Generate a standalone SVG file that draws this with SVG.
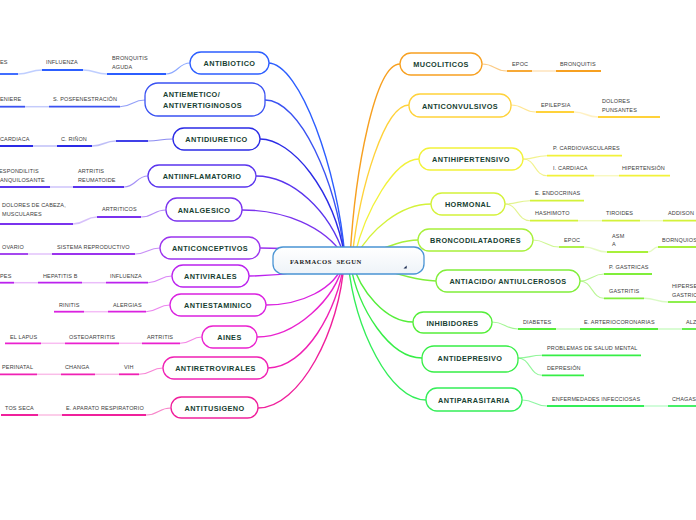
<svg xmlns="http://www.w3.org/2000/svg" width="696" height="520" viewBox="0 0 696 520">
<style>
.node rect{fill:#fff;stroke-width:1.3}
.nt{font-family:"Liberation Sans",Arial,sans-serif;font-weight:bold;font-size:7.3px;letter-spacing:0.4px;fill:#173f32;stroke:none;text-anchor:middle}
.st{font-family:"Liberation Sans",Arial,sans-serif;font-size:5.5px;letter-spacing:0.15px;fill:#3c3c3c;stroke:none}
.ul{stroke-width:1.8;fill:none}
.mc{fill:none;stroke-width:1.4}
.sc{fill:none;stroke-width:1.1;stroke-opacity:0.55}
.fc{fill:none;stroke-width:1.5;stroke-opacity:0.3}
</style>
<defs>
<linearGradient id="cg" x1="0" y1="0" x2="0" y2="1"><stop offset="0" stop-color="#ffffff"/><stop offset="1" stop-color="#eef3f8"/></linearGradient>
</defs>
<g id="connectors">
<path class="mc" stroke="#2c5eff" d="M268,63 C300,63 338,170 345,258"/>
<path class="mc" stroke="#3a52f2" d="M265,100 C300,100 336,180 345,258"/>
<path class="mc" stroke="#2b2be6" d="M260,139 C292,139 334,190 345,258"/>
<path class="mc" stroke="#5a35ee" d="M256,176 C292,176 330,210 345,258"/>
<path class="mc" stroke="#7a33ee" d="M242,210 C282,210 325,225 345,258"/>
<path class="mc" stroke="#9b33ee" d="M260,248 C290,248 320,250 345,258"/>
<path class="mc" stroke="#bb22ee" d="M249,276 C290,276 320,268 344,262"/>
<path class="mc" stroke="#da22e0" d="M266,305 C300,305 335,290 344,262"/>
<path class="mc" stroke="#ea22cf" d="M257,337 C295,337 335,300 344,262"/>
<path class="mc" stroke="#f020b4" d="M268,368 C305,368 338,310 344,262"/>
<path class="mc" stroke="#f0209c" d="M258,408 C300,408 340,330 344,262"/>
<path class="mc" stroke="#f7a020" d="M400,64 C375,64 355,170 350,258"/>
<path class="mc" stroke="#ffd23a" d="M409,105 C385,105 360,185 352,258"/>
<path class="mc" stroke="#f2f23a" d="M419,159 C395,159 365,210 354,258"/>
<path class="mc" stroke="#d4f23a" d="M431,204 C400,204 370,230 355,258"/>
<path class="mc" stroke="#a8f03a" d="M418,240 C400,240 380,250 358,258"/>
<path class="mc" stroke="#80ee3a" d="M436,281 C410,280 380,268 355,262"/>
<path class="mc" stroke="#55ee3a" d="M413,322 C385,322 360,290 352,262"/>
<path class="mc" stroke="#36ee46" d="M422,358 C390,358 358,310 350,262"/>
<path class="mc" stroke="#33ee58" d="M426,400 C390,400 355,330 348,262"/>
<g stroke="#2c5eff"><path class="sc" d="M190,63 C178,63 178,74 166,74"/><path class="fc" d="M107,74 C95,74 95,70 83,70"/><path class="fc" d="M42,70 C30,70 30,74 18,74"/></g>
<g stroke="#3a52f2"><path class="sc" d="M145,100 C132,100 133,106.7 120,106.7"/><path class="fc" d="M49,106.7 L25,106.7"/></g>
<g stroke="#2b2be6"><path class="sc" d="M173,139 C160,139 160,141 148,141"/><path class="fc" d="M116,141 C104,141 104,146 92,146"/><path class="fc" d="M57,146 L33,146"/></g>
<g stroke="#5a35ee"><path class="sc" d="M148,176 C136,176 136,187 124,187"/><path class="fc" d="M73,187 L50,187"/></g>
<g stroke="#7a33ee"><path class="sc" d="M166,210 C153,210 154,217 141,217"/><path class="fc" d="M97,217 C85,217 85,224 73,224"/></g>
<g stroke="#9b33ee"><path class="sc" d="M160,248 C148,248 147,254 135,254"/><path class="fc" d="M52,254 L28,254"/></g>
<g stroke="#bb22ee"><path class="sc" d="M172,276 C160,276 160,282.7 148,282.7"/><path class="fc" d="M106,282.7 L82,282.7"/><path class="fc" d="M38,282.7 L14,282.7"/></g>
<g stroke="#da22e0"><path class="sc" d="M170,305 C158,305 158,311.7 146,311.7"/><path class="fc" d="M108,311.7 L84,311.7"/></g>
<g stroke="#ea22cf"><path class="sc" d="M202,337 C191,337 191,343.3 180,343.3"/><path class="fc" d="M142,343.3 L119,343.3"/><path class="fc" d="M65,343.3 L41,343.3"/></g>
<g stroke="#f020b4"><path class="sc" d="M163,368 C151,368 151,374.3 139,374.3"/><path class="fc" d="M119,374.3 L95,374.3"/><path class="fc" d="M61,374.3 L37,374.3"/></g>
<g stroke="#f0209c"><path class="sc" d="M171,408 C158,408 159,415 146,415"/><path class="fc" d="M62,415 L38,415"/></g>
<g stroke="#f7a020"><path class="sc" d="M482,64 C495,64 494,71 507,71"/><path class="fc" d="M532,71 L556,71"/></g>
<g stroke="#ffd23a"><path class="sc" d="M511,105 C524,105 523,112 536,112"/><path class="fc" d="M574,112 C586,112 586,117 598,117"/></g>
<g stroke="#e8e830"><path class="sc" d="M523,159 C536,159 534,155.7 547,155.7"/><path class="sc" d="M523,159 C536,159 534,175.7 547,175.7"/><path class="fc" d="M594,175.7 L619,175.7"/></g>
<g stroke="#ccea34"><path class="sc" d="M505,204 C518,204 517,200.7 530,200.7"/><path class="sc" d="M505,204 C518,204 517,220.7 530,220.7"/><path class="fc" d="M578,220.7 L602,220.7"/><path class="fc" d="M640,220.7 L663,220.7"/></g>
<g stroke="#a8f03a"><path class="sc" d="M533,240 C546,240 546,247 559,247"/><path class="fc" d="M584,247 C596,247 595,252 607,252"/><path class="fc" d="M648,252 C653,252 653,247 658,247"/></g>
<g stroke="#80ee3a"><path class="sc" d="M580,281 C592,281 592,274 604,274"/><path class="sc" d="M580,281 C592,281 592,298.3 604,298.3"/><path class="fc" d="M644,298.3 C656,298.3 656,302 668,302"/></g>
<g stroke="#55ee3a"><path class="sc" d="M492,322 C505,322 505,329 518,329"/><path class="fc" d="M556,329 L580,329"/><path class="fc" d="M658,329 L682,329"/></g>
<g stroke="#36ee46"><path class="sc" d="M518,358 C530,358 530,355.3 542,355.3"/><path class="sc" d="M518,358 C530,358 530,375.3 542,375.3"/></g>
<g stroke="#33ee58"><path class="sc" d="M522,400 C535,400 534,406 547,406"/><path class="fc" d="M644,406 L668,406"/></g>
</g>

<g id="n-center">
<rect x="273" y="247" width="151" height="27" rx="10" fill="url(#cg)" stroke="#4a94d4" stroke-width="1.3"/>
<text x="290" y="263.5" xml:space="preserve" font-family="'Liberation Serif',serif" font-weight="bold" font-size="6.6" letter-spacing="0.55" fill="#222">FARMACOS  SEGUN</text>
<path d="M406.7,265.5 L406.7,268.5 L403.5,268.5 Z" fill="#1a2a50"/>
</g>

<g id="n-antibiotico" class="node" stroke="#2c5eff"><rect x="190" y="52" width="79" height="22" rx="11"/><text class="nt" x="229.5" y="66">ANTIBIOTICO</text></g>
<g id="s-antibiotico" stroke="#2c5eff">
<path class="ul" d="M107,74 H166"/><text class="st" x="112" y="59.5">BRONQUITIS</text><text class="st" x="112" y="68.5">AGUDA</text>
<path class="ul" d="M42,70 H83"/><text class="st" x="46" y="64">INFLUENZA</text>
<path class="ul" d="M0,74 H18"/><text class="st" x="0" y="64">ES</text>
</g>

<g id="n-antiemetico" class="node" stroke="#3a52f2"><rect x="145" y="83" width="120" height="33" rx="13"/><text class="nt" x="163" y="96.7" style="text-anchor:start">ANTIEMETICO/</text><text class="nt" x="163" y="107.7" style="text-anchor:start">ANTIVERTIGINOSOS</text></g>
<g id="s-antiemetico" stroke="#3a52f2">
<path class="ul" d="M49,106.7 H120"/><text class="st" x="53" y="101">S. POSFENESTRACIÓN</text>
<path class="ul" d="M0,106.7 H25"/><text class="st" x="0" y="101">ENIERE</text>
</g>

<g id="n-antidiuretico" class="node" stroke="#2b2be6"><rect x="173" y="128" width="87" height="22" rx="11"/><text class="nt" x="216.5" y="142">ANTIDIURETICO</text></g>
<g id="s-antidiuretico" stroke="#2b2be6">
<path class="ul" d="M116,141 H148"/>
<path class="ul" d="M57,146 H92"/><text class="st" x="61" y="141">C. RIÑON</text>
<path class="ul" d="M0,146 H33"/><text class="st" x="0" y="141">CARDIACA</text>
</g>

<g id="n-antiinflamatorio" class="node" stroke="#5a35ee"><rect x="148" y="165" width="108" height="22" rx="11"/><text class="nt" x="202" y="179">ANTIINFLAMATORIO</text></g>
<g id="s-antiinflamatorio" stroke="#5a35ee">
<path class="ul" d="M73,187 H124"/><text class="st" x="78" y="172.7">ARTRITIS</text><text class="st" x="78" y="182">REUMATOIDE</text>
<path class="ul" d="M0,187 H50"/><text class="st" x="-1" y="172.7">ESPONDILITIS</text><text class="st" x="0" y="182">ANQUILOSANTE</text>
</g>

<g id="n-analgesico" class="node" stroke="#7a33ee"><rect x="166" y="198" width="76" height="23" rx="11"/><text class="nt" x="204" y="213">ANALGESICO</text></g>
<g id="s-analgesico" stroke="#7a33ee">
<path class="ul" d="M97,217 H141"/><text class="st" x="102" y="210.7">ARTRITICOS</text>
<path class="ul" d="M0,224 H73"/><text class="st" x="2" y="207.3">DOLORES DE CABEZA,</text><text class="st" x="2" y="216.3">MUSCULARES</text>
</g>

<g id="n-anticonceptivos" class="node" stroke="#9b33ee"><rect x="160" y="237" width="100" height="22" rx="11"/><text class="nt" x="210" y="251">ANTICONCEPTIVOS</text></g>
<g id="s-anticonceptivos" stroke="#9b33ee">
<path class="ul" d="M52,254 H135"/><text class="st" x="57" y="248.7">SISTEMA REPRODUCTIVO</text>
<path class="ul" d="M0,254 H28"/><text class="st" x="2" y="248.7">OVARIO</text>
</g>

<g id="n-antivirales" class="node" stroke="#bb22ee"><rect x="172" y="265" width="77" height="22" rx="11"/><text class="nt" x="210.5" y="279">ANTIVIRALES</text></g>
<g id="s-antivirales" stroke="#bb22ee">
<path class="ul" d="M106,282.7 H148"/><text class="st" x="110" y="278">INFLUENZA</text>
<path class="ul" d="M38,282.7 H82"/><text class="st" x="43" y="278">HEPATITIS B</text>
<path class="ul" d="M0,282.7 H14"/><text class="st" x="0" y="278">PES</text>
</g>

<g id="n-antiestaminico" class="node" stroke="#da22e0"><rect x="170" y="294" width="96" height="22" rx="11"/><text class="nt" x="218" y="308">ANTIESTAMINICO</text></g>
<g id="s-antiestaminico" stroke="#da22e0">
<path class="ul" d="M108,311.7 H146"/><text class="st" x="113" y="306.7">ALERGIAS</text>
<path class="ul" d="M54,311.7 H84"/><text class="st" x="59" y="306.7">RINITIS</text>
</g>

<g id="n-aines" class="node" stroke="#ea22cf"><rect x="202" y="326" width="55" height="22" rx="11"/><text class="nt" x="229.5" y="340">AINES</text></g>
<g id="s-aines" stroke="#ea22cf">
<path class="ul" d="M142,343.3 H180"/><text class="st" x="147" y="339">ARTRITIS</text>
<path class="ul" d="M65,343.3 H119"/><text class="st" x="69" y="339">OSTEOARTRITIS</text>
<path class="ul" d="M5,343.3 H41"/><text class="st" x="10" y="339">EL LAPUS</text>
</g>

<g id="n-antiretrovirales" class="node" stroke="#f020b4"><rect x="163" y="357" width="105" height="22" rx="11"/><text class="nt" x="215.5" y="371">ANTIRETROVIRALES</text></g>
<g id="s-antiretrovirales" stroke="#f020b4">
<path class="ul" d="M119,374.3 H139"/><text class="st" x="124" y="369.3">VIH</text>
<path class="ul" d="M61,374.3 H95"/><text class="st" x="65" y="369.3">CHANGA</text>
<path class="ul" d="M0,374.3 H37"/><text class="st" x="2" y="369.3">PERINATAL</text>
</g>

<g id="n-antitusigeno" class="node" stroke="#f0209c"><rect x="171" y="397" width="87" height="21" rx="10.5"/><text class="nt" x="214.5" y="410.5">ANTITUSIGENO</text></g>
<g id="s-antitusigeno" stroke="#f0209c">
<path class="ul" d="M62,415 H146"/><text class="st" x="66" y="410">E. APARATO RESPIRATORIO</text>
<path class="ul" d="M1,415 H38"/><text class="st" x="5" y="410">TOS SECA</text>
</g>

<g id="n-mucoliticos" class="node" stroke="#f7a020"><rect x="400" y="53" width="82" height="22" rx="11"/><text class="nt" x="441" y="67">MUCOLITICOS</text></g>
<g id="s-mucoliticos" stroke="#f7a020">
<path class="ul" d="M507,71 H532"/><text class="st" x="512" y="66">EPOC</text>
<path class="ul" d="M556,71 H601"/><text class="st" x="560" y="66">BRONQUITIS</text>
</g>

<g id="n-anticonvulsivos" class="node" stroke="#ffd23a"><rect x="409" y="94" width="102" height="23" rx="11"/><text class="nt" x="460" y="108.5">ANTICONVULSIVOS</text></g>
<g id="s-anticonvulsivos" stroke="#ffd23a">
<path class="ul" d="M536,112 H574"/><text class="st" x="541" y="106.7">EPILEPSIA</text>
<path class="ul" d="M598,117 H660"/><text class="st" x="602" y="102.7">DOLORES</text><text class="st" x="602" y="112">PUNSANTES</text>
</g>

<g id="n-antihipertensivo" class="node" stroke="#f2f23a"><rect x="419" y="148" width="104" height="22" rx="11"/><text class="nt" x="471" y="162">ANTIHIPERTENSIVO</text></g>
<g id="s-antihipertensivo" stroke="#f2f23a">
<path class="ul" d="M547,155.7 H622"/><text class="st" x="553" y="150.3">P. CARDIOVASCULARES</text>
<path class="ul" d="M547,175.7 H594"/><text class="st" x="553" y="170">I. CARDIACA</text>
<path class="ul" d="M619,175.7 H670"/><text class="st" x="622" y="170">HIPERTENSIÓN</text>
</g>

<g id="n-hormonal" class="node" stroke="#d4f23a"><rect x="431" y="193" width="74" height="22" rx="11"/><text class="nt" x="468" y="207">HORMONAL</text></g>
<g id="s-hormonal" stroke="#d4f23a">
<path class="ul" d="M530,200.7 H584"/><text class="st" x="535" y="195.3">E. ENDOCRINAS</text>
<path class="ul" d="M530,220.7 H578"/><text class="st" x="535" y="215.3">HASHIMOTO</text>
<path class="ul" d="M602,220.7 H640"/><text class="st" x="606" y="215.3">TIROIDES</text>
<path class="ul" d="M663,220.7 H696"/><text class="st" x="668" y="215.3">ADDISON</text>
</g>

<g id="n-broncodilatadores" class="node" stroke="#a8f03a"><rect x="418" y="229" width="115" height="22" rx="11"/><text class="nt" x="475.5" y="243">BRONCODILATADORES</text></g>
<g id="s-broncodilatadores" stroke="#a8f03a">
<path class="ul" d="M559,247 H584"/><text class="st" x="564" y="242">EPOC</text>
<path class="ul" d="M607,252 H648"/><text class="st" x="612" y="238">ASM</text><text class="st" x="612" y="246">A</text>
<path class="ul" d="M658,247 H696"/><text class="st" x="662" y="242">BORNQUIOS</text>
</g>

<g id="n-antiacido" class="node" stroke="#80ee3a"><rect x="436" y="270" width="144" height="22" rx="11"/><text class="nt" x="508" y="284">ANTIACIDO/ ANTIULCEROSOS</text></g>
<g id="s-antiacido" stroke="#80ee3a">
<path class="ul" d="M604,274 H652"/><text class="st" x="609" y="269">P. GASTRICAS</text>
<path class="ul" d="M604,298.3 H644"/><text class="st" x="609" y="292.7">GASTRITIS</text>
<path class="ul" d="M668,302 H696"/><text class="st" x="672" y="288">HIPERSE</text><text class="st" x="672" y="297.3">GASTRIC</text>
</g>

<g id="n-inhibidores" class="node" stroke="#55ee3a"><rect x="413" y="312" width="79" height="21" rx="10.5"/><text class="nt" x="452.5" y="325.5">INHIBIDORES</text></g>
<g id="s-inhibidores" stroke="#55ee3a">
<path class="ul" d="M518,329 H556"/><text class="st" x="523" y="324">DIABETES</text>
<path class="ul" d="M580,329 H658"/><text class="st" x="584" y="324">E. ARTERIOCORONARIAS</text>
<path class="ul" d="M682,329 H696"/><text class="st" x="686" y="324">ALZ</text>
</g>

<g id="n-antidepresivo" class="node" stroke="#36ee46"><rect x="422" y="346" width="96" height="26" rx="12"/><text class="nt" x="470" y="361">ANTIDEPRESIVO</text></g>
<g id="s-antidepresivo" stroke="#36ee46">
<path class="ul" d="M542,355.3 H641"/><text class="st" x="547" y="349.7">PROBLEMAS DE SALUD MENTAL</text>
<path class="ul" d="M542,375.3 H584"/><text class="st" x="547" y="370">DEPRESIÓN</text>
</g>

<g id="n-antiparasitaria" class="node" stroke="#33ee58"><rect x="426" y="388" width="96" height="23" rx="11"/><text class="nt" x="474" y="402.5">ANTIPARASITARIA</text></g>
<g id="s-antiparasitaria" stroke="#33ee58">
<path class="ul" d="M547,406 H644"/><text class="st" x="552" y="401">ENFERMEDADES INFECCIOSAS</text>
<path class="ul" d="M668,406 H696"/><text class="st" x="672" y="401">CHAGAS</text>
</g>
</svg>
